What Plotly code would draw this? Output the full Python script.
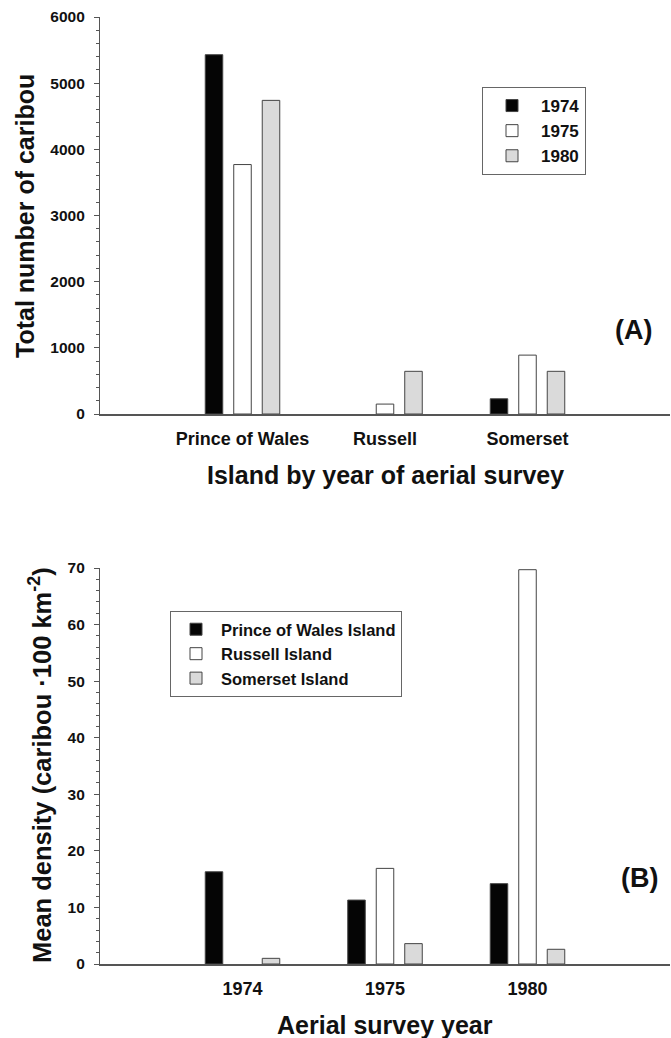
import plotly.graph_objects as go

# ---------------- data ----------------
islands = ["Prince of Wales", "Russell", "Somerset"]
years_top = ["1974", "1975", "1980"]
total_1974 = [5430, None, 230]
total_1975 = [3770, 150, 890]
total_1980 = [4740, 645, 645]

survey_years = ["1974", "1975", "1980"]
island_names = ["Prince of Wales Island", "Russell Island", "Somerset Island"]
dens_pow = [16.3, 11.3, 14.2]
dens_russell = [None, 16.9, 69.7]
dens_somerset = [1.0, 3.6, 2.6]

W, H = 671, 1038
FONT = "Liberation Sans, Arial, sans-serif"
TXT = "#111111"
AX = "#555555"
fills = ["#050505", "#ffffff", "#dadada"]

def px(x):
    return x / W

def py(y):
    return 1 - y / H

fig = go.Figure()

top_series = [total_1974, total_1975, total_1980]
for name, vals, col in zip(years_top, top_series, fills):
    fig.add_trace(go.Bar(
        x=islands, y=vals, name=name, marker=dict(color=col, line=dict(color="#444444", width=1)),
        xaxis="x", yaxis="y", legend="legend"))

bot_series = [dens_pow, dens_russell, dens_somerset]
for name, vals, col in zip(island_names, bot_series, fills):
    fig.add_trace(go.Bar(
        x=survey_years, y=vals, name=name, marker=dict(color=col, line=dict(color="#444444", width=1)),
        xaxis="x2", yaxis="y2", legend="legend2"))

common_x = dict(type="category", range=[-1, 3], showline=True, linecolor=AX, linewidth=1.5,
                ticks="", showgrid=False, zeroline=False, ticklabelstandoff=8,
                tickfont=dict(family=FONT, size=18, color=TXT, weight="bold"))
common_y = dict(showline=True, linecolor=AX, linewidth=1.2, ticks="outside", ticklen=5,
                tickcolor=AX, showgrid=False, zeroline=False, ticklabelstandoff=6,
                tickfont=dict(family=FONT, size=15.5, color=TXT, weight="bold"))

fig.update_layout(
    width=W, height=H,
    margin=dict(l=0, r=0, t=0, b=0, autoexpand=False),
    paper_bgcolor="white", plot_bgcolor="white",
    barmode="group", bargap=0.4, bargroupgap=0.385,
    xaxis=dict(domain=[px(100), px(670)], anchor="y", **common_x),
    yaxis=dict(domain=[py(414), py(17)], anchor="x", range=[0, 6000], dtick=1000,
               minor=dict(dtick=200, ticks="outside", ticklen=3, tickcolor=AX), **common_y),
    xaxis2=dict(domain=[px(100), px(670)], anchor="y2", **common_x),
    yaxis2=dict(domain=[py(964), py(568)], anchor="x2", range=[0, 70], dtick=10,
                minor=dict(dtick=2, ticks="outside", ticklen=3, tickcolor=AX), **common_y),
    legend=dict(x=px(482), y=py(87), xanchor="left", yanchor="top",
                bordercolor="#666666", borderwidth=1, bgcolor="white",
                font=dict(family=FONT, size=17, color=TXT, weight="bold"),
                traceorder="normal", itemwidth=48),
    legend2=dict(x=px(170), y=py(611), xanchor="left", yanchor="top",
                 bordercolor="#666666", borderwidth=1, bgcolor="white",
                 font=dict(family=FONT, size=16.5, color=TXT, weight="bold"),
                 traceorder="normal", itemwidth=40),
    showlegend=True,
)

ann_font = dict(family=FONT, color=TXT, weight="bold")
annotations = [
    dict(text="Total number of caribou", x=px(25), y=py(216), textangle=-90, size=25),
    dict(text="Island by year of aerial survey", x=px(385), y=py(475), textangle=0, size=25),
    dict(text="(A)", x=px(633), y=py(330), textangle=0, size=27),
    dict(text="Mean density (caribou \u00b7100 km<sup>-2</sup>)", x=px(40), y=py(765), textangle=-90, size=25.5),
    dict(text="Aerial survey year", x=px(385), y=py(1025), textangle=0, size=25),
    dict(text="(B)", x=px(639), y=py(878), textangle=0, size=27),
]
for a in annotations:
    fig.add_annotation(text=a["text"], x=a["x"], y=a["y"], xref="paper", yref="paper",
                       xanchor="center", yanchor="middle", showarrow=False,
                       textangle=a["textangle"], font=dict(size=a["size"], **ann_font))

fig.write_html("out.html", config={"displayModeBar": False},
               post_script="document.body.style.margin='0';document.body.style.overflow='hidden';")
